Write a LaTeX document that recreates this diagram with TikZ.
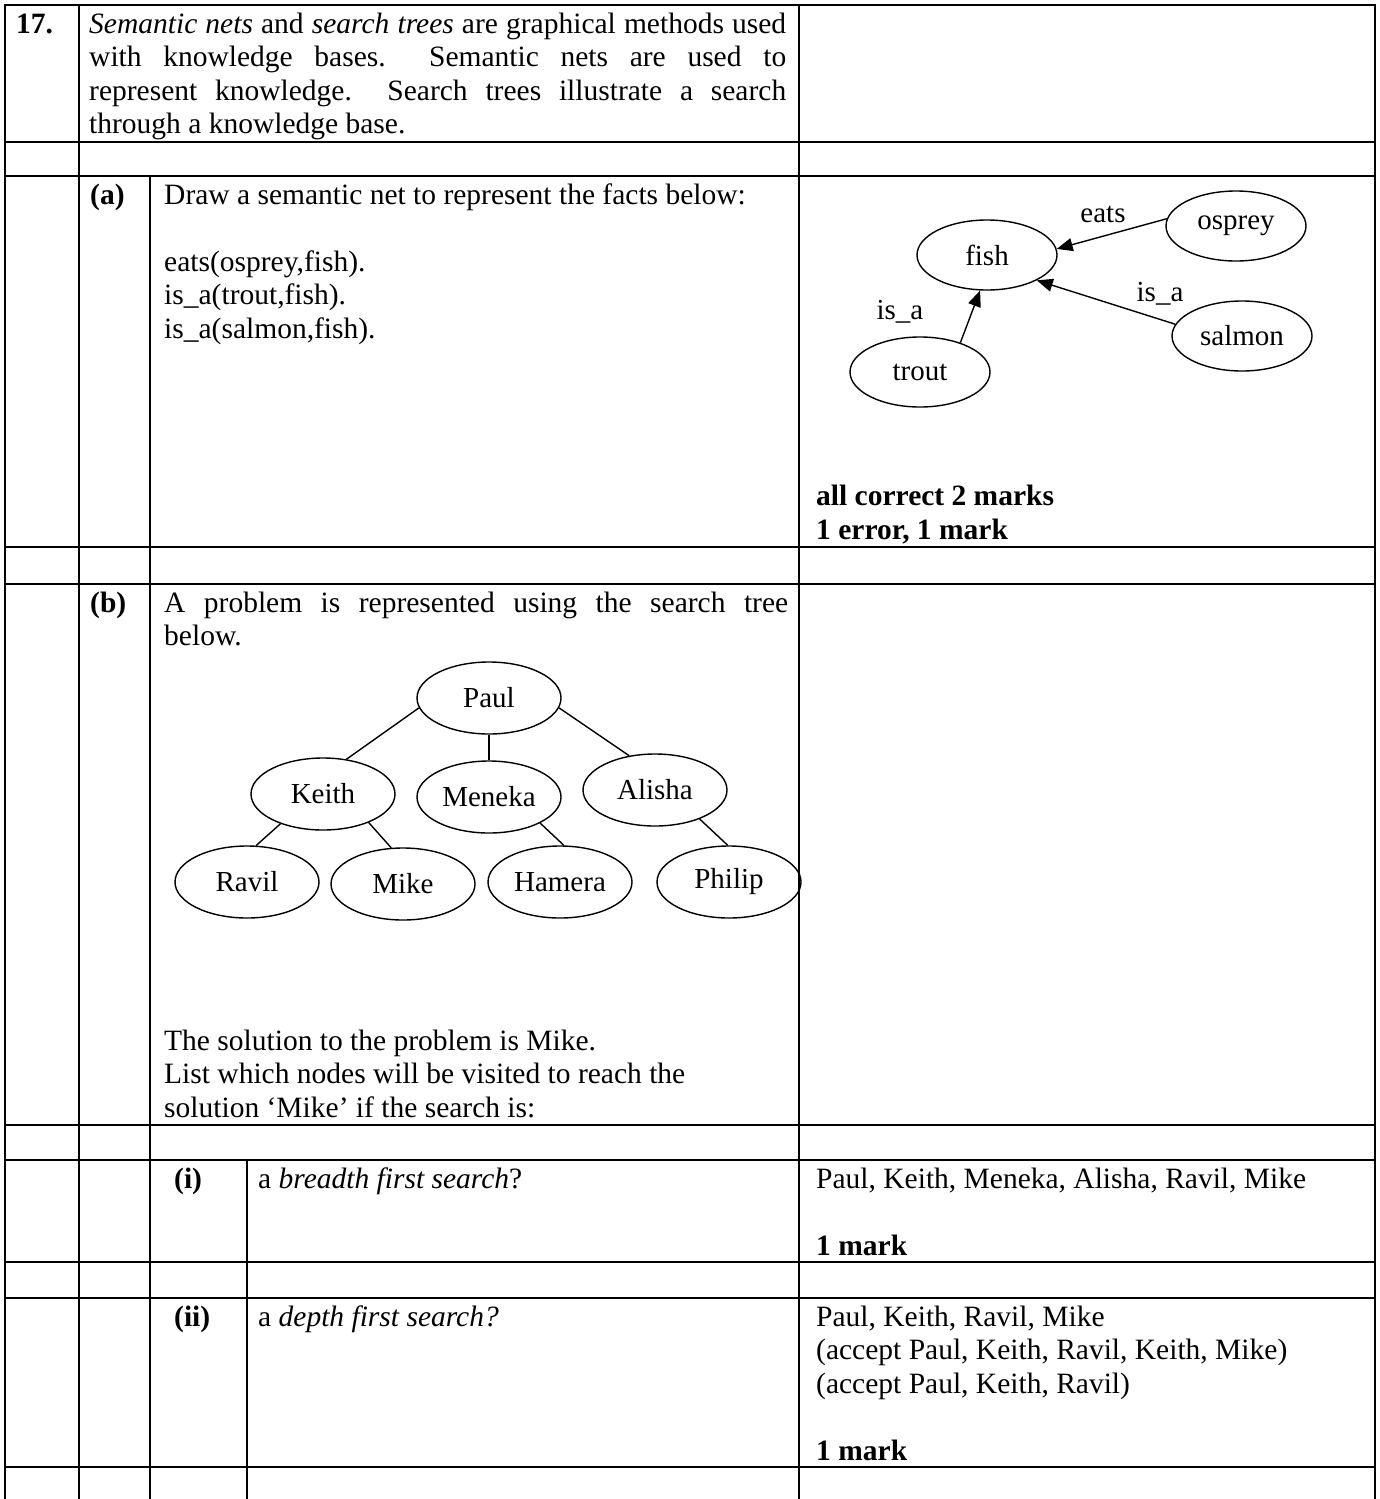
\documentclass[tikz,border=0pt]{standalone}
\usepackage{fontspec}
\setmainfont{Liberation Serif}
\usetikzlibrary{shapes.geometric,arrows.meta}

\newcommand{\bodyfont}{\fontsize{29.5}{33.5}\selectfont}
\newcommand{\nodefont}{\fontsize{29}{33}\selectfont}
\tikzstyle{gridline}=[line width=2.5pt, line cap=rect]
\tikzstyle{vertex}=[draw, ellipse, line width=1.4pt, inner sep=0pt, minimum width=144pt, minimum height=72pt, font=\nodefont]
\tikzstyle{concept}=[vertex, minimum width=140pt, minimum height=70pt]
\tikzstyle{edge}=[draw, line width=1.4pt, -]
\tikzstyle{relation}=[edge, -{Triangle[length=16pt,width=13pt]}]
\tikzstyle{weight}=[font=\nodefont, inner sep=0pt]
\tikzstyle{txt}=[anchor=north west, inner sep=0pt, align=left, font=\bodyfont, yshift=23.45pt]

\begin{document}
\begin{tikzpicture}[x=1pt, y=-1pt]
    \useasboundingbox (0,0) rectangle (1379,1499);
    % First we draw the table rules
    \foreach \y in {5,142,176,547,584,1125,1160,1262,1298,1467}
        \draw[gridline] (5,\y) -- (1375,\y);
    \foreach \x/\top in {5/5, 79/5, 150/176, 247/1160, 799/5, 1375/5}
        \draw[gridline] (\x,\top) -- (\x,1499);

    % Question text
    \node[txt] (q) at (16,33) {\strut\textbf{17.}};
    \node[txt] (intro) at (89,33) {\strut\makebox[697pt][s]{\textit{Semantic nets} and \textit{search trees} are graphical methods used}\\
        \makebox[697pt][s]{with knowledge bases.\ \ Semantic nets are used to}\\
        \makebox[697pt][s]{represent knowledge.\ \ Search trees illustrate a search}\\
        through a knowledge base.};

    % Part (a)
    \node[txt] (parta) at (90,204) {\strut\textbf{(a)}};
    \node[txt] (taska) at (164,204) {\strut Draw a semantic net to represent the facts below:};
    \node[txt] (facts) at (164,271) {\strut eats(osprey,fish).\\ is\_a(trout,fish).\\ is\_a(salmon,fish).};
    \node[txt] (marka) at (816,505.5) {\strut\textbf{all correct 2 marks}\\ \textbf{1 error, 1 mark}};

    % The semantic net
    \foreach \pos/\name in {{(987,255)/fish}, {(1236,226)/osprey}, {(920,372)/trout}, {(1242,336)/salmon}}
        \node[concept] (\name) at \pos {\name};
    \foreach \source/\dest in {osprey.174/fish.5, salmon.170/fish.333, trout.36/fish.259}
        \path[relation] (\source) -- (\dest);
    \node[weight] (eats) at (1103,214) {eats};
    \node[weight] (isa1) at (1160,294) {is\_a};
    \node[weight] (isa2) at (900,312) {is\_a};

    % Part (b)
    \node[txt] (partb) at (90,612) {\strut\textbf{(b)}};
    \node[txt] (taskb) at (164,612) {\strut\makebox[624pt][s]{A problem is represented using the search tree}\\ below.};

    % The search tree
    \foreach \pos/\name in {{(489,698)/Paul}, {(323,794)/Keith}, {(489,797)/Meneka}, {(655,790)/Alisha},
                            {(247,882)/Ravil}, {(403,884)/Mike}, {(560,882)/Hamera}, {(729,882)/Philip}}
        \node[vertex] (\name) at \pos {\name};
    \foreach \source/\dest in {Paul.188/Keith.56, Paul.south/Meneka.north, Paul.352/Alisha.127,
                               Keith.215/Ravil.76, Keith.328/Mike.108, Meneka.333/Hamera.84, Alisha.327/Philip.92}
        \path[edge] (\source) -- (\dest);

    \node[txt] (solution) at (164,1050) {\strut The solution to the problem is Mike.\\
        List which nodes will be visited to reach the\\
        solution `Mike' if the search is:};

    % Part (i)
    \node[txt] (parti) at (174,1188) {\strut\textbf{(i)}};
    \node[txt] (taski) at (258,1188) {\strut a \textit{breadth first search}?};
    \node[txt] (ansi) at (816,1188) {\strut Paul, Keith, Meneka, Alisha, Ravil, Mike};
    \node[txt] (marki) at (816,1255) {\strut\textbf{1 mark}};

    % Part (ii)
    \node[txt] (partii) at (174,1326) {\strut\textbf{(ii)}};
    \node[txt] (taskii) at (258,1326) {\strut a \textit{depth first search?}};
    \node[txt] (ansii) at (816,1326) {\strut Paul, Keith, Ravil, Mike\\
        (accept Paul, Keith, Ravil, Keith, Mike)\\
        (accept Paul, Keith, Ravil)};
    \node[txt] (markii) at (816,1460) {\strut\textbf{1 mark}};
\end{tikzpicture}
\end{document}
